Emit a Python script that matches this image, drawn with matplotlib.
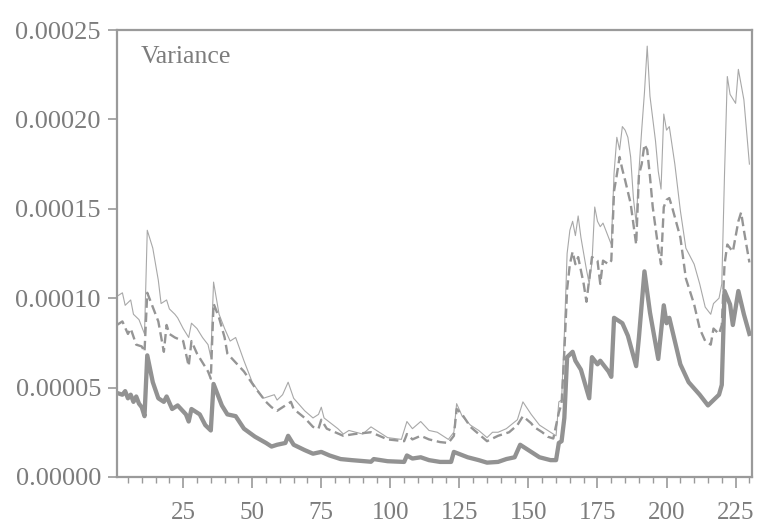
import matplotlib
matplotlib.use("Agg")
import matplotlib.pyplot as plt
from matplotlib.ticker import FormatStrFormatter, MultipleLocator

# values, in units of 1e-5
thin_x = [1, 3, 4, 6, 7, 9, 11, 12, 14, 16, 17, 19, 20, 22, 23, 25, 27, 28, 30, 32,
          34, 35, 36, 38, 40, 42, 44, 47, 50, 54, 58, 59, 61, 63, 65, 69, 72, 74, 75, 76,
          81, 83, 85, 90, 93, 95, 99, 104, 106, 108, 111, 114, 117, 121, 123, 124, 126, 129, 132, 135,
          137, 139, 142, 146, 148, 151, 154, 158, 160, 161, 162, 163, 164, 165, 166, 167, 168, 169, 170, 171,
          172, 173, 174, 175, 176, 177, 179, 180, 181, 182, 183, 184, 185, 186, 187, 188, 189, 190, 191, 192,
          193, 194, 196, 197, 198, 199, 200, 201, 203, 205, 207, 210, 212, 214, 216, 217, 219, 220, 221, 222,
          223, 225, 226, 228, 230]
thin_v = [10.1, 10.3, 9.6, 9.9, 9.1, 8.8, 8.0, 13.8, 12.8, 11.0, 9.7, 9.9, 9.4, 9.1, 8.9, 8.3, 7.8, 8.6, 8.3, 7.8,
          7.4, 6.7, 10.9, 9.1, 8.3, 7.6, 7.8, 6.5, 5.3, 4.4, 4.6, 4.3, 4.6, 5.3, 4.4, 3.7, 3.3, 3.5, 3.9, 3.3,
          2.7, 2.4, 2.6, 2.4, 2.8, 2.6, 2.2, 2.1, 3.1, 2.7, 3.1, 2.6, 2.5, 2.1, 2.5, 4.1, 3.4, 2.9, 2.6, 2.2,
          2.5, 2.5, 2.7, 3.2, 4.2, 3.5, 2.9, 2.5, 2.3, 4.2, 4.3, 8.0, 12.5, 13.8, 14.3, 13.5, 14.6, 13.4, 12.5, 11.6,
          10.8, 12.0, 15.1, 14.3, 14.0, 14.2, 13.4, 13.0, 17.0, 19.0, 18.3, 19.6, 19.4, 19.0, 17.9, 15.6, 14.2, 17.1, 19.4, 21.5,
          24.1, 21.3, 18.8, 17.1, 16.1, 20.3, 19.4, 19.6, 17.5, 14.9, 12.8, 11.9, 10.8, 9.5, 9.1, 9.7, 10.0, 10.8, 17.0, 22.4,
          21.4, 20.9, 22.8, 21.1, 17.5]

dash_x = [1, 3, 5, 6, 8, 10, 11, 12, 14, 16, 18, 19, 20, 22, 25, 26, 27, 28, 30, 32,
          34, 35, 36, 38, 40, 41, 44, 47, 51, 52, 55, 57, 59, 62, 64, 65, 69, 72, 74, 75,
          77, 83, 87, 93, 99, 105, 106, 108, 111, 114, 118, 121, 123, 124, 126, 129, 132, 135, 139, 143,
          146, 148, 151, 152, 155, 157, 159, 161, 162, 163, 164, 165, 166, 167, 168, 170, 171, 173, 175, 176,
          177, 179, 180, 181, 182, 183, 184, 185, 187, 189, 190, 191, 192, 193, 194, 195, 197, 198, 199, 200,
          201, 202, 205, 207, 210, 212, 214, 216, 217, 219, 220, 221, 222, 224, 226, 227, 228, 230]
dash_v = [8.5, 8.7, 8.0, 8.3, 7.4, 7.3, 7.0, 10.3, 9.5, 8.7, 7.0, 8.5, 8.0, 7.8, 7.6, 6.9, 6.2, 7.6, 6.9, 6.4,
          5.9, 5.5, 9.7, 8.9, 7.8, 6.9, 6.4, 5.9, 5.0, 4.8, 4.2, 3.9, 3.7, 4.0, 4.2, 3.8, 3.3, 2.8, 2.7, 3.2,
          2.7, 2.3, 2.4, 2.5, 2.1, 2.0, 2.4, 2.1, 2.3, 2.1, 1.95, 1.9, 2.3, 3.8, 3.5, 2.8, 2.4, 2.0, 2.3, 2.5,
          2.9, 3.4, 3.0, 2.8, 2.5, 2.25, 2.15, 3.6, 4.1, 7.0, 10.5, 11.9, 12.6, 11.9, 12.3, 10.8, 9.8, 12.3, 12.1, 10.8,
          12.1, 11.9, 12.1, 16.0, 16.9, 17.9, 17.2, 16.6, 15.3, 13.0, 16.9, 17.5, 18.6, 18.3, 16.8, 15.1, 12.8, 11.9, 15.1, 15.5,
          15.6, 15.1, 13.4, 11.1, 9.65, 8.3, 7.6, 7.4, 8.3, 8.0, 8.5, 11.9, 13.0, 12.6, 14.3, 14.8, 13.8, 12.0]

thick_x = [1, 3, 4, 5, 6, 7, 8, 9, 10, 11, 12, 14, 16, 18, 19, 21, 23, 26, 27, 28,
           31, 33, 35, 36, 39, 41, 44, 47, 51, 55, 57, 59, 62, 63, 65, 69, 72, 75, 78, 82,
           86, 93, 94, 99, 105, 106, 108, 111, 114, 118, 122, 123, 128, 132, 135, 139, 142, 145, 147, 151,
           154, 158, 160, 161, 162, 163, 164, 166, 167, 169, 172, 173, 175, 176, 179, 180, 181, 184, 186, 189,
           190, 192, 194, 197, 199, 200, 201, 205, 208, 212, 215, 217, 219, 220, 221, 223, 224, 226, 228, 230]
thick_v = [4.7, 4.6, 4.8, 4.4, 4.6, 4.2, 4.5, 4.1, 3.9, 3.4, 6.8, 5.3, 4.4, 4.2, 4.5, 3.8, 4.0, 3.5, 3.1, 3.8,
           3.5, 2.9, 2.6, 5.2, 4.0, 3.5, 3.4, 2.7, 2.25, 1.9, 1.7, 1.8, 1.9, 2.3, 1.8, 1.5, 1.3, 1.4, 1.2, 1.0,
           0.94, 0.85, 1.0, 0.88, 0.84, 1.2, 1.03, 1.1, 0.94, 0.84, 0.84, 1.4, 1.1, 0.94, 0.8, 0.84, 1.0, 1.1, 1.8, 1.4,
           1.1, 0.94, 0.94, 1.9, 2.0, 3.3, 6.7, 7.0, 6.5, 6.0, 4.4, 6.7, 6.3, 6.5, 5.9, 5.6, 8.9, 8.6, 7.9, 6.2,
           7.8, 11.5, 9.2, 6.6, 9.6, 8.6, 8.9, 6.3, 5.3, 4.6, 4.0, 4.3, 4.6, 5.15, 10.4, 9.65, 8.5, 10.4, 9.1, 8.0]

y_ticks = [0.0, 0.00005, 0.00010, 0.00015, 0.00020, 0.00025]
x_ticks = [25, 50, 75, 100, 125, 150, 175, 200, 225]

LINE = "#959595"
TEXT = "#7c7c7c"
EDGE = "#9a9a9a"

plt.rcParams["font.family"] = ["Liberation Serif", "DejaVu Serif"]

fig = plt.figure(figsize=(7.59, 5.27), dpi=100)
ax = fig.add_axes([0.154, 0.095, 0.837, 0.848])

scale = 1e-5
ax.plot(thin_x, [v * scale for v in thin_v], color="#a8a8a8", lw=0.8)
ax.plot(dash_x, [v * scale for v in dash_v], color=LINE, lw=1.7, dashes=(4, 2))
ax.plot(thick_x, [v * scale for v in thick_v], color="#929292", lw=3.1)

ax.set_xlim(1, 231)
ax.set_ylim(0, 0.00025)
ax.set_yticks(y_ticks)
ax.set_xticks(x_ticks)
ax.xaxis.set_minor_locator(MultipleLocator(5))
ax.yaxis.set_major_formatter(FormatStrFormatter("%.5f"))

for sp in ax.spines.values():
    sp.set_color(EDGE)
    sp.set_linewidth(1.6)

ax.tick_params(axis="y", which="major", direction="out", length=6.5, width=1.2,
               color=EDGE, labelcolor=TEXT, labelsize=19, pad=5)
ax.tick_params(axis="x", which="major", direction="out", length=8, width=1.2,
               color=EDGE, labelcolor=TEXT, labelsize=18, pad=10)
ax.tick_params(axis="x", which="minor", direction="out", length=4, width=1.0, color=EDGE)

ax.text(0.038, 0.94, "Variance", transform=ax.transAxes, fontsize=18.5,
        color=TEXT, va="center", ha="left")

fig.savefig("out.png", dpi=100, facecolor="white")
